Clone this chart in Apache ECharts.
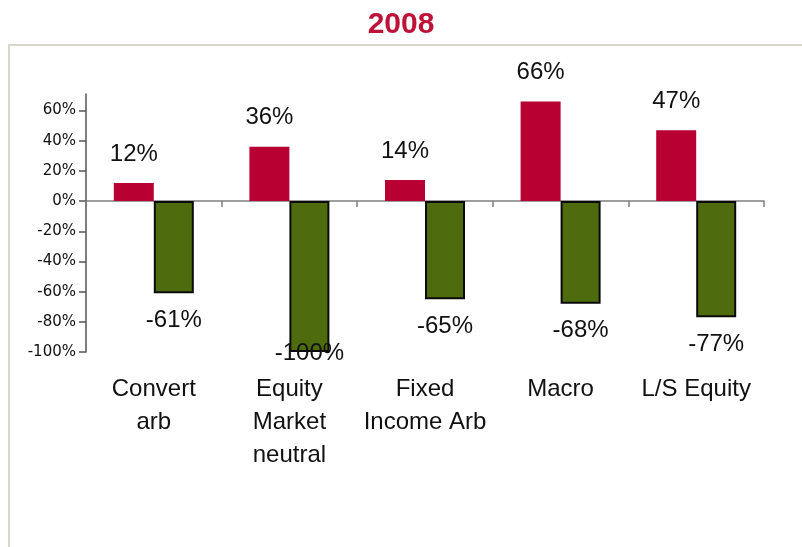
<!DOCTYPE html>
<html>
<head>
<meta charset="utf-8">
<script src="https://cdn.jsdelivr.net/npm/echarts@6/dist/echarts.min.js"></script>
<style>
  html, body { margin: 0; padding: 0; background: #fff; }
  #chart { width: 802px; height: 547px; }
</style>
</head>
<body>
<div id="chart"></div>
<script>
  var categories = ['Convert\narb', 'Equity\nMarket\nneutral', 'Fixed\nIncome Arb', 'Macro', 'L/S Equity'];
  var bestValues = [12, 36, 14, 66, 47];
  var worstValues = [-61, -100, -65, -68, -77];
  var yTicks = [-100, -80, -60, -40, -20, 0, 20, 40, 60];

  var FONT = '"Liberation Sans", Arial, sans-serif';

  var chart = echarts.init(document.getElementById('chart'));

  // labels at the floor of the plot get pulled back inside, like in the original
  var worstData = worstValues.map(function (v) {
    if (v <= -100) {
      return { value: v, label: { distance: -11 } };
    }
    return v;
  });

  var option = {
    backgroundColor: '#fff',
    animation: false,
    title: {
      text: '2008',
      left: 'center',
      top: 5,
      textStyle: {
        fontFamily: FONT,
        fontSize: 30,
        fontWeight: 'bold',
        color: '#be1238'
      }
    },
    graphic: [{
      type: 'rect',
      shape: { x: 9, y: 45, width: 820, height: 520 },
      style: { fill: null, stroke: '#d9d6cb', lineWidth: 2 },
      silent: true
    }],
    grid: {
      left: 86,
      right: 38,
      top: 94,
      bottom: 195,
      containLabel: false
    },
    xAxis: [{
      type: 'category',
      data: categories,
      position: 'bottom',
      axisLine: { onZero: true, lineStyle: { color: '#7f7f7f', width: 1.5 } },
      axisTick: { show: true, length: 6, lineStyle: { color: '#7f7f7f', width: 1.5 } },
      axisLabel: { show: false },
      splitLine: { show: false }
    }, {
      type: 'category',
      data: categories,
      position: 'bottom',
      axisLine: { show: false, onZero: false },
      axisTick: { show: false },
      axisLabel: {
        margin: 21,
        fontFamily: FONT,
        fontSize: 24,
        lineHeight: 33,
        color: '#111',
        interval: 0
      },
      splitLine: { show: false }
    }],
    yAxis: {
      type: 'value',
      min: -100,
      max: 71,
      interval: 20,
      axisLine: { show: true, lineStyle: { color: '#555', width: 1.5 } },
      axisTick: {
        show: true,
        length: 7,
        customValues: yTicks,
        lineStyle: { color: '#555', width: 1.5 }
      },
      axisLabel: {
        customValues: yTicks,
        margin: 10,
        fontFamily: '"DejaVu Sans", Verdana, sans-serif',
        fontSize: 15,
        color: '#111',
        formatter: function (v) { return v + '%'; }
      },
      splitLine: { show: false }
    },
    series: [{
      name: 'best',
      type: 'bar',
      xAxisIndex: 0,
      barWidth: 40,
      barGap: '0%',
      data: bestValues,
      itemStyle: { color: '#b80032' },
      label: {
        show: true,
        position: 'top',
        distance: 17,
        fontFamily: FONT,
        fontSize: 24,
        color: '#111',
        formatter: '{c}%'
      }
    }, {
      name: 'worst',
      type: 'bar',
      xAxisIndex: 0,
      barWidth: 40,
      barGap: '0%',
      data: worstData,
      itemStyle: { color: '#4e6c0e', borderColor: '#0a0a0a', borderWidth: 2 },
      label: {
        show: true,
        position: 'bottom',
        distance: 15,
        fontFamily: FONT,
        fontSize: 24,
        color: '#111',
        formatter: '{c}%'
      }
    }]
  };

  chart.setOption(option);
</script>
</body>
</html>
